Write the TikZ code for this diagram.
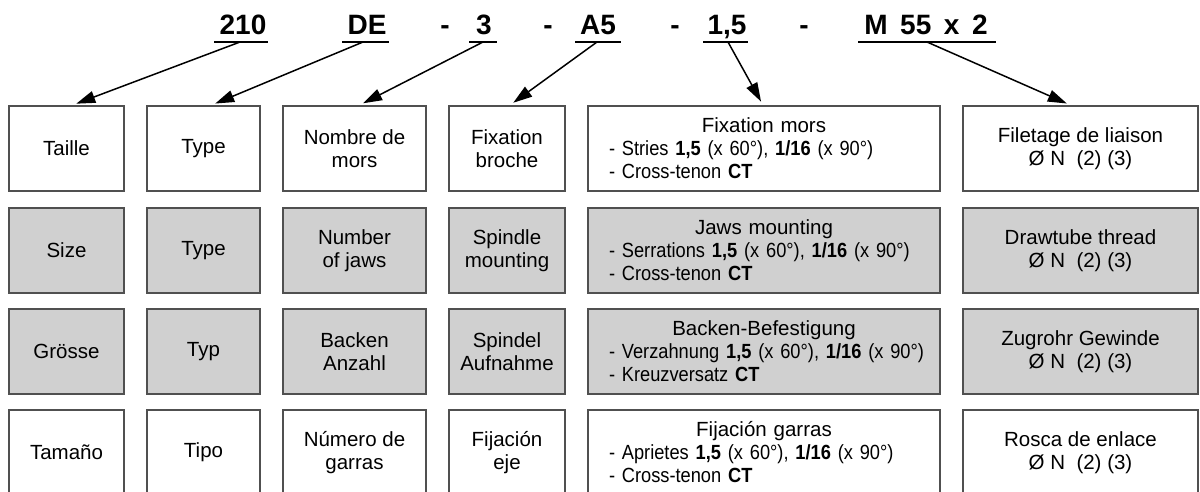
\documentclass[tikz,border=0pt]{standalone}
\usepackage{fontspec}
\setmainfont{Liberation Sans}
\newfontfamily\narrowsans[FakeStretch=0.89]{Liberation Sans}
\usetikzlibrary{arrows.meta}
\definecolor{boxline}{RGB}{80,80,80}
\definecolor{boxgray}{RGB}{208,208,208}
\newcommand{\tline}[1]{\makebox[\linewidth][l]{\narrowsans #1}}
\newcommand{\ttitle}[1]{\makebox[\linewidth][c]{#1}}
\begin{document}
\begin{tikzpicture}[x=1pt,y=-1pt,
  box/.style={draw=boxline, line width=1.8pt, minimum height=85, inner sep=0pt,
    font=\fontsize{20.5}{23}\selectfont, align=center},
  wbox/.style={box, fill=white},
  gbox/.style={box, fill=boxgray},
  wide/.style={minimum width=352, text width=310, align=left},
  code/.style={font=\fontsize{28}{30}\selectfont\bfseries, anchor=base, inner sep=0pt},
  uline/.style={line width=2pt},
  arr/.style={line width=1.5pt, -{Triangle[length=19pt,width=12pt]}}
]
\useasboundingbox (0,0) rectangle (1200,491);
\fill[white] (0,0) rectangle (1200,491);

% ---- code line ----
\node[code] (k1) at (243,34) {210};
\node[code] (k2) at (367,34) {DE};
\node[code] (d1) at (445,34) {-};
\node[code] (k3) at (484,34) {3};
\node[code] (d2) at (548,34) {-};
\node[code] (k4) at (598,34) {A5};
\node[code] (d3) at (675,34) {-};
\node[code] (k5) at (727,34) {1,5};
\node[code] (d4) at (804,34) {-};
\node[code] (k6) at (926,34) {M\hspace{0.45em}55\hspace{0.45em}x\hspace{0.45em}2};

\draw[uline] (214,42) -- (268,42);
\draw[uline] (342,42) -- (389,42);
\draw[uline] (469,42) -- (497,42);
\draw[uline] (575,42) -- (621,42);
\draw[uline] (703,42) -- (748,42);
\draw[uline] (858,42) -- (996,42);

\coordinate (u1) at (240,42);
\coordinate (u2) at (363,42);
\coordinate (u3) at (483,42);
\coordinate (u4) at (597,42);
\coordinate (u5) at (728,42);
\coordinate (u6) at (927,42);

% ---- row 1 (French) ----
\node[wbox, minimum width=115] (a1) at (66.5,148.5) {Taille};
\node[wbox, minimum width=113] (a2) at (203.5,148.5) {Type};
\node[wbox, minimum width=143] (a3) at (354.5,148.5) {Nombre de\\mors};
\node[wbox, minimum width=116] (a4) at (507,148.5) {Fixation\\broche};
\node[wbox, wide] (a5) at (764,148.5)
  {\ttitle{Fixation mors}\\\tline{- Stries \textbf{1,5} (x 60°), \textbf{1/16} (x 90°)}\\\tline{- Cross-tenon \textbf{CT}}};
\node[wbox, minimum width=235] (a6) at (1080.5,148.5) {Filetage de liaison\\Ø N\ \ (2) (3)};

% ---- row 2 (English) ----
\node[gbox, minimum width=115] (b1) at (66.5,250.5) {Size};
\node[gbox, minimum width=113] (b2) at (203.5,250.5) {Type};
\node[gbox, minimum width=143] (b3) at (354.5,250.5) {Number\\of jaws};
\node[gbox, minimum width=116] (b4) at (507,250.5) {Spindle\\mounting};
\node[gbox, wide] (b5) at (764,250.5)
  {\ttitle{Jaws mounting}\\\tline{- Serrations \textbf{1,5} (x 60°), \textbf{1/16} (x 90°)}\\\tline{- Cross-tenon \textbf{CT}}};
\node[gbox, minimum width=235] (b6) at (1080.5,250.5) {Drawtube thread\\Ø N\ \ (2) (3)};

% ---- row 3 (German) ----
\node[gbox, minimum width=115] (c1) at (66.5,351.5) {Grösse};
\node[gbox, minimum width=113] (c2) at (203.5,351.5) {Typ};
\node[gbox, minimum width=143] (c3) at (354.5,351.5) {Backen\\Anzahl};
\node[gbox, minimum width=116] (c4) at (507,351.5) {Spindel\\Aufnahme};
\node[gbox, wide] (c5) at (764,351.5)
  {\ttitle{Backen-Befestigung}\\\tline{- Verzahnung \textbf{1,5} (x 60°), \textbf{1/16} (x 90°)}\\\tline{- Kreuzversatz \textbf{CT}}};
\node[gbox, minimum width=235] (c6) at (1080.5,351.5) {Zugrohr Gewinde\\Ø N\ \ (2) (3)};

% ---- row 4 (Spanish) ----
\node[wbox, minimum width=115] (e1) at (66.5,452.5) {Tamaño};
\node[wbox, minimum width=113] (e2) at (203.5,452.5) {Tipo};
\node[wbox, minimum width=143] (e3) at (354.5,452.5) {Número de\\garras};
\node[wbox, minimum width=116] (e4) at (507,452.5) {Fijación\\eje};
\node[wbox, wide] (e5) at (764,452.5)
  {\ttitle{Fijación garras}\\\tline{- Aprietes \textbf{1,5} (x 60°), \textbf{1/16} (x 90°)}\\\tline{- Cross-tenon \textbf{CT}}};
\node[wbox, minimum width=235] (e6) at (1080.5,452.5) {Rosca de enlace\\Ø N\ \ (2) (3)};

% ---- arrows ----
\draw[arr, shorten >=4pt] (u1) -- ([xshift=6pt]a1.north);
\draw[arr, shorten >=4pt] (u2) -- ([xshift=8pt]a2.north);
\draw[arr, shorten >=4pt] (u3) -- ([xshift=5pt]a3.north);
\draw[arr, shorten >=4pt] (u4) -- ([xshift=3pt]a4.north);
\draw[arr, shorten >=4pt] (u5) -- ([xshift=-1pt]a5.north);
\draw[arr, shorten >=4pt] (u6) -- ([xshift=-10pt]a6.north);
\end{tikzpicture}
\end{document}
